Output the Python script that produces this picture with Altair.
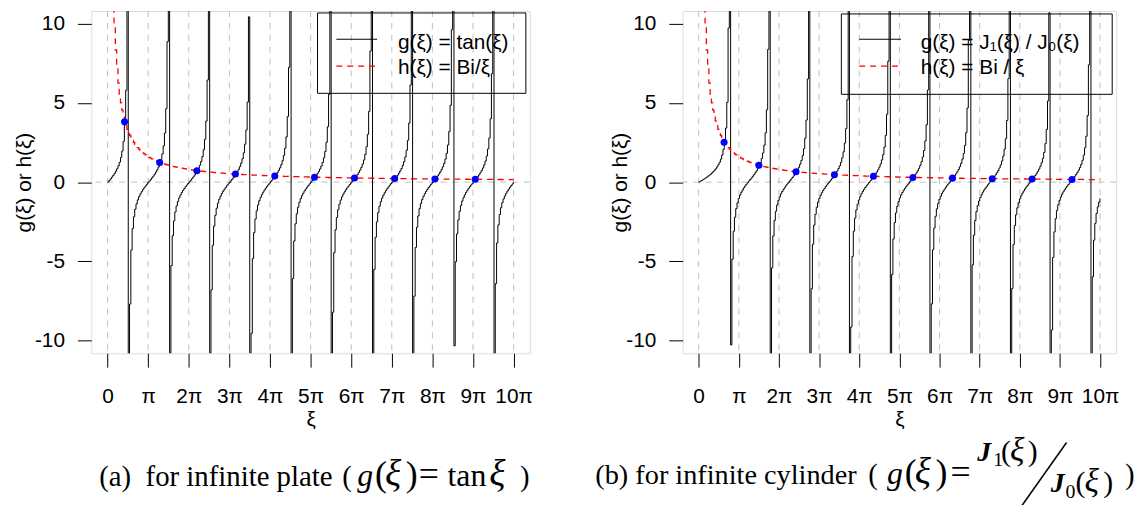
import numpy as np
import pandas as pd
import altair as alt

# ---------------- data / parameters ----------------
BI = 5.0                      # Biot number used for h(xi) = Bi/xi
XI_STEP = 0.1                 # sampling step of the plotted curves
N_PI = 10                     # curves drawn on [0, 10*pi]
X_TICK_LABELS = ["0", "π", "2π", "3π", "4π", "5π", "6π", "7π", "8π", "9π", "10π"]
Y_TICKS = [-10, -5, 0, 5, 10]
Y_TITLE = "g(ξ) or h(ξ)"
X_TITLE = "ξ"
LEGEND_A = ["g(ξ) = tan(ξ)", "h(ξ) = Bi/ξ"]
LEGEND_B = ["g(ξ) = J₁(ξ) / J₀(ξ)", "h(ξ) = Bi / ξ"]

PI = np.pi
xi = np.round(np.arange(0.0, N_PI * PI + 1e-9, XI_STEP), 10)
x_tick_values = [k * PI for k in range(N_PI + 1)]


def bessel_j(n, x):
    tau = np.linspace(0.0, 2 * PI, 512, endpoint=False)
    x = np.asarray(x, dtype=float)
    return np.cos(np.multiply.outer(x, np.sin(tau)) - n * tau).mean(axis=-1)


def find_roots(fun, lo, hi, step=0.005):
    grid = np.arange(lo, hi, step)
    vals = fun(grid)
    roots = []
    for i in range(len(grid) - 1):
        if vals[i] * vals[i + 1] < 0:
            a, b, fa = grid[i], grid[i + 1], vals[i]
            for _ in range(50):
                m = 0.5 * (a + b)
                fm = fun(np.array([m]))[0]
                if fa * fm <= 0:
                    b = m
                else:
                    a, fa = m, fm
            roots.append(0.5 * (a + b))
    return np.array(roots)


# plate: g = tan(xi)
g_plate = np.clip(np.tan(xi), -1e4, 1e4)
# cylinder: g = J1/J0
j0 = bessel_j(0, xi)
j1 = bessel_j(1, xi)
g_cyl = np.clip(j1 / j0, -1e4, 1e4)

xi_h = xi[xi > 0]
h_vals = BI / xi_h

roots_plate = find_roots(lambda x: x * np.sin(x) - BI * np.cos(x), 0.001, N_PI * PI)
roots_cyl = find_roots(lambda x: x * bessel_j(1, x) - BI * bessel_j(0, x), 0.001, N_PI * PI)

# ---------------- styling ----------------
SANS = "Liberation Sans"
SERIF = "Liberation Serif"
FS = 21
X_DOMAIN = [-0.4 * PI, 10.4 * PI]
Y_DOMAIN = [-10.8, 10.8]
HEIGHT = 345
W_LEFT = 442
W_RIGHT = 437
ONE = pd.DataFrame({"k": [0]})
LX0, RX0, Y0 = 89, 685, 8     # approximate page origin of each plot area

labels_js = "[" + ",".join("'" + s + "'" for s in X_TICK_LABELS) + "]"


def txt(x, y, s, size, style="normal", weight="normal", font=SERIF, align="left"):
    return alt.Chart(ONE).mark_text(
        text=s, font=font, fontSize=size, fontStyle=style, fontWeight=weight,
        align=align, baseline="alphabetic", color="black"
    ).encode(x=alt.value(x), y=alt.value(y))


def panel(g_vals, roots, width, legend_labels, box, line_x, text_x, ytitle_x, captions):
    xscale = alt.Scale(domain=X_DOMAIN, nice=False, zero=False)
    yscale = alt.Scale(domain=Y_DOMAIN, nice=False, zero=False)
    xaxis = alt.Axis(
        values=x_tick_values, labelExpr=labels_js + "[round(datum.value / PI)]",
        title=X_TITLE, titleFont=SANS, titleFontSize=FS, titleFontWeight="normal",
        titleY=73, titleBaseline="alphabetic", titleColor="black",
        labelFont=SANS, labelFontSize=FS, labelColor="black", labelPadding=19,
        labelFlush=False, labelOverlap=False,
        tickSize=14, tickColor="black", tickWidth=1, domain=False, grid=False,
    )
    yaxis = alt.Axis(
        values=Y_TICKS, labelExpr="'' + datum.value",
        title=Y_TITLE, titleFont=SANS, titleFontSize=FS, titleFontWeight="normal",
        titleX=ytitle_x, titleY=HEIGHT / 2, titleAngle=-90, titleAlign="center",
        titleBaseline="alphabetic", titleColor="black",
        labelFont=SANS, labelFontSize=FS, labelColor="black", labelPadding=13,
        labelFlush=False, labelOverlap=False, labelBaseline="middle",
        tickSize=14, tickColor="black", tickWidth=1, domain=False, grid=False,
    )

    df_g = pd.DataFrame({"xi": xi, "g": g_vals})
    df_h = pd.DataFrame({"xi": xi_h, "h": h_vals})
    df_r = pd.DataFrame({"xi": roots, "h": BI / roots})
    df_v = pd.DataFrame({"v": x_tick_values})

    vgrid = alt.Chart(df_v).mark_rule(color="#BEBEBE", strokeDash=[6, 6], strokeWidth=1).encode(
        x=alt.X("v:Q", scale=xscale, axis=xaxis)
    )
    hzero = alt.Chart(ONE).mark_rule(color="#BEBEBE", strokeDash=[6, 6], strokeWidth=1).encode(
        y=alt.Y(datum=0, scale=yscale, axis=yaxis)
    )
    curve = alt.Chart(df_g).mark_line(
        color="black", strokeWidth=1, interpolate="step-after", clip=True
    ).encode(x=alt.X("xi:Q", scale=xscale), y=alt.Y("g:Q", scale=yscale))
    hline = alt.Chart(df_h).mark_line(
        color="#FF0000", strokeWidth=1.3, strokeDash=[6, 5], interpolate="step-after", clip=True
    ).encode(x=alt.X("xi:Q", scale=xscale), y=alt.Y("h:Q", scale=yscale))
    dots = alt.Chart(df_r).mark_circle(color="#0000FF", size=50, opacity=1).encode(
        x=alt.X("xi:Q", scale=xscale), y=alt.Y("h:Q", scale=yscale)
    )

    bx0, bx1, by0, by1 = box
    lbox = alt.Chart(ONE).mark_rect(fillOpacity=0, stroke="black", strokeWidth=1).encode(
        x=alt.value(bx0), x2=alt.value(bx1), y=alt.value(by0), y2=alt.value(by1)
    )
    l1 = alt.Chart(ONE).mark_rule(color="black", strokeWidth=1).encode(
        x=alt.value(line_x[0]), x2=alt.value(line_x[1]), y=alt.value(28.5)
    )
    l2 = alt.Chart(ONE).mark_rule(color="#FF0000", strokeWidth=1.3, strokeDash=[6, 5]).encode(
        x=alt.value(line_x[0]), x2=alt.value(line_x[1]), y=alt.value(55.5)
    )
    t1 = txt(text_x, 38.5, legend_labels[0], FS, font=SANS)
    t2 = txt(text_x, 64, legend_labels[1], FS, font=SANS)

    layers = [vgrid, hzero, curve, hline, dots, lbox, l1, l2, t1, t2] + captions
    return alt.layer(*layers).properties(width=width, height=HEIGHT)


def ptxt(x0, px, py, s, size, **kw):
    """text placed at page coordinates, converted to the panel's own frame"""
    return txt(px - x0, py - Y0, s, size, **kw)


CAP_FS = 29
MATH_FS = 32
PAREN_FS = 36
XI_FS = 38

# caption (a): "(a)  for infinite plate ( g(ξ) = tan ξ )"
cap_a = [
    ptxt(LX0, 97, 487, "(a)\u00a0\u00a0for infinite plate", CAP_FS),
    ptxt(LX0, 342, 487, "(", CAP_FS),
    ptxt(LX0, 357, 487, "g", MATH_FS, style="italic"),
    ptxt(LX0, 375, 487, "(", PAREN_FS),
    ptxt(LX0, 385, 487, "ξ", XI_FS, style="italic"),
    ptxt(LX0, 406, 487, ")", PAREN_FS),
    ptxt(LX0, 419, 487, "=", MATH_FS + 4),
    ptxt(LX0, 448, 487, "tan", MATH_FS),
    ptxt(LX0, 490, 487, "ξ", XI_FS, style="italic"),
    ptxt(LX0, 521, 487, ")", CAP_FS),
]

# caption (b): "(b) for infinite cylinder ( g(ξ) = J1(ξ) / J0(ξ) )"
slash = alt.Chart(ONE).mark_rule(color="black", strokeWidth=1.5).encode(
    x=alt.value(1072 - RX0), y=alt.value(443 - Y0),
    x2=alt.value(1026 - RX0), y2=alt.value(508 - Y0)
)
cap_b = [
    ptxt(RX0, 597, 485, "(b) for infinite cylinder", 28.5),
    ptxt(RX0, 872, 485, "(", CAP_FS),
    ptxt(RX0, 891, 485, "g", MATH_FS, style="italic"),
    ptxt(RX0, 909, 485, "(", PAREN_FS),
    ptxt(RX0, 919, 485, "ξ", XI_FS, style="italic"),
    ptxt(RX0, 940, 485, ")", PAREN_FS),
    ptxt(RX0, 955, 485, "=", MATH_FS + 4),
    ptxt(RX0, 982, 462, "J", 28, style="italic", weight="bold"),
    ptxt(RX0, 998, 467, "1", 20),
    ptxt(RX0, 1006, 462, "(", 30),
    ptxt(RX0, 1015, 462, "ξ", 34, style="italic"),
    ptxt(RX0, 1033, 462, ")", 30),
    slash,
    ptxt(RX0, 1056, 493, "J", 28, style="italic", weight="bold"),
    ptxt(RX0, 1071, 499, "0", 20),
    ptxt(RX0, 1081, 493, "(", 30),
    ptxt(RX0, 1090, 493, "ξ", 34, style="italic"),
    ptxt(RX0, 1109, 493, ")", 30),
    ptxt(RX0, 1131, 485, ")", CAP_FS),
]

left = panel(g_plate, roots_plate, W_LEFT, LEGEND_A,
             (228, 438, 2, 83), (247, 288), 309, -61, cap_a)
right = panel(g_cyl, roots_cyl, W_RIGHT, LEGEND_B,
              (160, 433, 3, 84), (178, 220), 240, -57, cap_b)

chart = alt.hconcat(left, right, spacing=154, bounds="flush").properties(
    padding={"left": 5, "top": 0, "right": 0, "bottom": 0}
).configure_view(stroke="black", strokeWidth=1).configure(background="white")

chart.save("out.html", embed_options={"renderer": "svg", "actions": False})
